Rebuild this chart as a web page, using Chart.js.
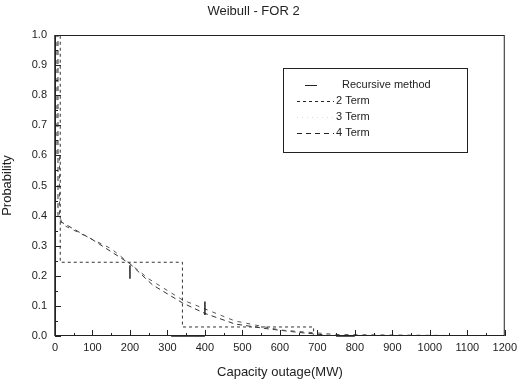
<!DOCTYPE html>
<html>
<head>
<meta charset="utf-8">
<script src="https://cdn.jsdelivr.net/npm/chart.js@4"></script>
<style>
  html, body { margin: 0; padding: 0; background: #fff; }
  #wrap { width: 522px; height: 387px; }
</style>
</head>
<body>
<div id="wrap"><canvas id="chart" width="522" height="387"></canvas></div>
<script>
// Data (x = capacity outage in MW, y = probability)
const xTicks = [0, 100, 200, 300, 400, 500, 600, 700, 800, 900, 1000, 1100, 1200];
const yTickLabels = ["0.0", "0.1", "0.2", "0.3", "0.4", "0.5", "0.6", "0.7", "0.8", "0.9", "1.0"];

// Recursive method: only short pieces are visible in the scan (null = gap)
const recursiveX = [0, 0, 0, 200, 200, 200, 400, 400, 400, 310, 400, 400, 750, 800];
const recursiveY = [1.0, 0.0, null, 0.235, 0.19, null, 0.115, 0.07, null, 0.0, 0.0, null, 0.0, 0.0];

const twoTermX = [0, 14, 14, 340, 340, 690, 690, 1200];
const twoTermY = [1.0, 1.0, 0.245, 0.245, 0.03, 0.03, 0.0, 0.0];

const threeTermX = [0, 5, 5, 12, 12, 20, 150, 250, 340, 400, 480, 600, 750, 1200];
const threeTermY = [1.0, 1.0, 0.6, 0.6, 0.4, 0.37, 0.29, 0.19, 0.12, 0.09, 0.05, 0.02, 0.005, 0.0];

const fourTermX = [0, 8, 8, 15, 100, 200, 260, 340, 400, 480, 560, 650, 750, 1200];
const fourTermY = [1.0, 1.0, 0.40, 0.38, 0.32, 0.24, 0.17, 0.11, 0.075, 0.04, 0.025, 0.012, 0.0, 0.0];

function toPoints(xs, ys) {
    return xs.map((x, i) => ({ x: x, y: ys[i] }));
}

const ink = "#222";
const font = "'Liberation Sans', Arial, sans-serif";

// Frame, inward ticks and the boxed legend
const framePlugin = {
    id: "frame",
    afterDraw(chart) {
        const ctx = chart.ctx;
        const a = chart.chartArea;
        const xs = chart.scales.x;
        const ys = chart.scales.y;
        ctx.save();
        ctx.strokeStyle = ink;
        ctx.lineWidth = 1;
        ctx.strokeRect(a.left + 0.5, a.top + 0.5, a.right - a.left - 1, a.bottom - a.top - 1);

        // ticks on the x axis (major every 100, minor every 50)
        ctx.beginPath();
        for (let v = 0; v <= 1200; v += 50) {
            const px = Math.round(xs.getPixelForValue(v)) + 0.5;
            const len = v % 100 === 0 ? 6 : 3;
            ctx.moveTo(px, a.bottom);
            ctx.lineTo(px, a.bottom - len);
        }
        // ticks on the y axis (major every 0.1, minor every 0.05)
        for (let k = 0; k <= 20; k++) {
            const py = Math.round(ys.getPixelForValue(k * 0.05)) + 0.5;
            const len = k % 2 === 0 ? 6 : 3;
            ctx.moveTo(a.left, py);
            ctx.lineTo(a.left + len, py);
        }
        ctx.stroke();

        // legend
        const box = { x: 283, y: 68, w: 184, h: 84 };
        ctx.strokeRect(box.x + 0.5, box.y + 0.5, box.w, box.h);
        ctx.font = "11px " + font;
        ctx.fillStyle = ink;
        ctx.textBaseline = "middle";
        const rows = [
            { label: "Recursive method", tx: 342, y: 85, x1: 305, x2: 317, dash: [] },
            { label: "2 Term", tx: 336, y: 101, x1: 297, x2: 334, dash: [3, 3] },
            { label: "3 Term", tx: 336, y: 117, x1: 297, x2: 334, dash: [1, 4], faint: true },
            { label: "4 Term", tx: 336, y: 133, x1: 297, x2: 334, dash: [5, 4] }
        ];
        rows.forEach(r => {
            ctx.setLineDash(r.dash);
            ctx.strokeStyle = r.faint ? "#ddd" : ink;
            ctx.beginPath();
            ctx.moveTo(r.x1, r.y + 0.5);
            ctx.lineTo(r.x2, r.y + 0.5);
            ctx.stroke();
            ctx.fillText(r.label, r.tx, r.y);
        });
        ctx.restore();
    }
};

const ctx = document.getElementById("chart").getContext("2d");
new Chart(ctx, {
    type: "line",
    data: {
        datasets: [
            {
                label: "Recursive method",
                data: toPoints(recursiveX, recursiveY),
                borderColor: ink,
                borderWidth: 1.5,
                pointRadius: 0,
                spanGaps: false,
                clip: false
            },
            {
                label: "2 Term",
                data: toPoints(twoTermX, twoTermY),
                borderColor: "#333",
                borderWidth: 1,
                borderDash: [3, 3],
                pointRadius: 0
            },
            {
                label: "3 Term",
                data: toPoints(threeTermX, threeTermY),
                borderColor: "#555",
                borderWidth: 1,
                borderDash: [4, 5],
                pointRadius: 0
            },
            {
                label: "4 Term",
                data: toPoints(fourTermX, fourTermY),
                borderColor: "#333",
                borderWidth: 1,
                borderDash: [5, 4],
                pointRadius: 0
            }
        ]
    },
    options: {
        responsive: false,
        animation: false,
        layout: { padding: { left: 0, right: 15, top: 0, bottom: 0 } },
        plugins: {
            legend: { display: false },
            tooltip: { enabled: false },
            title: {
                display: true,
                text: "Weibull - FOR 2",
                color: ink,
                font: { family: font, size: 13, weight: "normal" },
                padding: { top: 4, bottom: 15.4 }
            }
        },
        scales: {
            x: {
                type: "linear",
                min: 0,
                max: 1200,
                afterFit(scale) { scale.height = 51; },
                afterBuildTicks(scale) { scale.ticks = xTicks.map(v => ({ value: v })); },
                grid: { display: false, drawTicks: false, tickLength: 0 },
                border: { display: false },
                ticks: {
                    color: ink,
                    font: { family: font, size: 11 },
                    padding: 5,
                    maxRotation: 0,
                    autoSkip: false,
                    callback: v => String(v)
                },
                title: {
                    display: true,
                    text: "Capacity outage(MW)",
                    color: ink,
                    font: { family: font, size: 13 },
                    padding: { top: 8, bottom: 7 }
                }
            },
            y: {
                type: "linear",
                min: 0,
                max: 1.0,
                afterFit(scale) { scale.width = 55; },
                afterBuildTicks(scale) { scale.ticks = yTickLabels.map((t, i) => ({ value: i / 10 })); },
                grid: { display: false, drawTicks: false, tickLength: 0 },
                border: { display: false },
                ticks: {
                    color: ink,
                    font: { family: font, size: 11 },
                    padding: 8,
                    callback: (v, i) => yTickLabels[i]
                },
                title: {
                    display: true,
                    text: "Probability",
                    color: ink,
                    font: { family: font, size: 13 },
                    padding: { top: 0, bottom: 4 }
                }
            }
        }
    },
    plugins: [framePlugin]
});
</script>
</body>
</html>
